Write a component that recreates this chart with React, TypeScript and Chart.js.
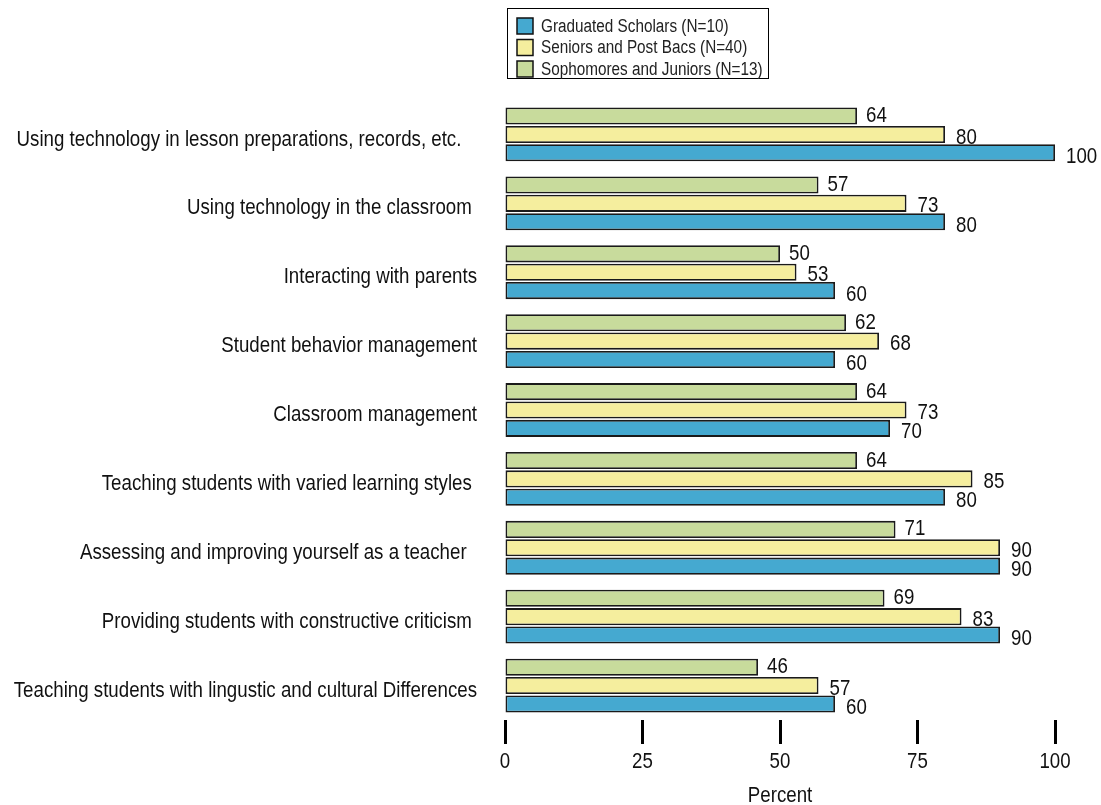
import React, { useEffect, useRef } from "react";
import { Chart, registerables } from "chart.js";

Chart.register(...registerables);

const categories = [
  "Using technology in lesson preparations, records, etc.   ",
  "Using technology in the classroom ",
  "Interacting with parents",
  "Student behavior management",
  "Classroom management",
  "Teaching students with varied learning styles ",
  "Assessing and improving yourself as a teacher  ",
  "Providing students with constructive criticism ",
  "Teaching students with lingustic and cultural Differences",
];

const sophomoresJuniors = [64, 57, 50, 62, 64, 64, 71, 69, 46];
const seniorsPostBacs = [80, 73, 53, 68, 73, 85, 90, 83, 57];
const graduatedScholars = [100, 80, 60, 60, 70, 80, 90, 90, 60];

const seriesNames = [
  "Sophomores and Juniors (N=13)",
  "Seniors and Post Bacs (N=40)",
  "Graduated Scholars (N=10)",
];
const seriesColors = ["#C8DB9C", "#F5EE9E", "#45A9D0"];

const xTickValues = [0, 25, 50, 75, 100];
const axisTitle = "Percent";

const FONT = "'Liberation Sans', Arial, sans-serif";
const SQUEEZE = 0.85;

// draws text horizontally condensed (Arial Narrow look)
function narrowText(ctx: any, text: string, x: number, y: number, size: number, align: string, color: string) {
  ctx.save();
  ctx.font = `${size}px ${FONT}`;
  ctx.fillStyle = color;
  ctx.textAlign = align;
  ctx.textBaseline = "middle";
  ctx.translate(x, y);
  ctx.scale(SQUEEZE, 1);
  ctx.fillText(text, 0, 0);
  ctx.restore();
}

const textPlugin = {
  id: "narrowTexts",
  afterDatasetsDraw(chart: any) {
    const ctx = chart.ctx;
    // value labels
    const yShift = [0, 3, 4];
    const xGap = [9, 11, 11];
    chart.data.datasets.forEach((ds: any, di: number) => {
      const meta = chart.getDatasetMeta(di);
      meta.data.forEach((bar: any, i: number) => {
        narrowText(ctx, String(ds.data[i]), bar.x + xGap[di], bar.y + yShift[di], 22, "left", "#111");
      });
    });
    // category labels
    const ys = chart.scales.y;
    chart.data.labels.forEach((lab: string, i: number) => {
      narrowText(ctx, lab, ys.right - 28, ys.getPixelForTick(i) + 5, 22, "right", "#111");
    });
    // x tick labels
    const xs = chart.scales.x;
    xTickValues.forEach((v) => {
      narrowText(ctx, String(v), xs.getPixelForValue(v), chart.chartArea.bottom + 42, 22, "center", "#111");
    });
    // axis title
    narrowText(ctx, axisTitle, (chart.chartArea.left + chart.chartArea.right) / 2, chart.chartArea.bottom + 76, 22, "center", "#111");
  },
  afterDraw(chart: any) {
    const ctx = chart.ctx;
    const left = 507;
    const top = 8;
    const width = 261;
    const height = 70;
    ctx.save();
    ctx.strokeStyle = "#000";
    ctx.lineWidth = 1;
    ctx.strokeRect(left + 0.5, top + 0.5, width, height);
    const order = [2, 1, 0];
    order.forEach((di, row) => {
      const cy = top + 18 + row * 21.5;
      ctx.fillStyle = seriesColors[di];
      ctx.fillRect(left + 10, cy - 8, 16, 16);
      ctx.strokeStyle = "#111";
      ctx.lineWidth = 1.5;
      ctx.strokeRect(left + 10, cy - 8, 16, 16);
      narrowText(ctx, seriesNames[di], left + 34, cy + 1, 18, "left", "#222");
    });
    ctx.restore();
  },
};

export default function App() {
  const canvasRef = useRef<HTMLCanvasElement | null>(null);

  useEffect(() => {
    if (!canvasRef.current) return;
    const data = [sophomoresJuniors, seniorsPostBacs, graduatedScholars];
    const chart = new Chart(canvasRef.current, {
      type: "bar",
      data: {
        labels: categories,
        datasets: data.map((d, i) => ({
          label: seriesNames[i],
          data: d,
          backgroundColor: seriesColors[i],
          borderColor: "#1a1a1a",
          borderWidth: 1.8,
          borderSkipped: false,
          categoryPercentage: 0.8,
          barPercentage: 0.93,
        })),
      },
      options: {
        indexAxis: "y",
        animation: false,
        responsive: true,
        maintainAspectRatio: false,
        layout: { padding: { top: 100, right: 46, left: 0, bottom: 0 } },
        plugins: {
          legend: { display: false },
          tooltip: { enabled: false },
        },
        scales: {
          x: {
            type: "linear",
            min: 0,
            max: 100,
            afterBuildTicks: (scale: any) => {
              scale.ticks = xTickValues.map((v) => ({ value: v }));
            },
            afterFit: (scale: any) => {
              scale.height = 85;
            },
            ticks: { display: false },
            grid: {
              drawOnChartArea: false,
              drawTicks: true,
              tickLength: 24,
              tickWidth: 3,
              tickColor: "#000",
            },
            border: { display: false },
            title: { display: false, text: axisTitle },
          },
          y: {
            afterFit: (scale: any) => {
              scale.width = 505;
            },
            ticks: { display: false },
            grid: { display: false },
            border: { display: false },
          },
        },
      },
      plugins: [textPlugin],
    });
    return () => chart.destroy();
  }, []);

  return (
    <div style={{ position: "fixed", left: 0, top: 0, width: 1101, height: 805, background: "#fff" }}>
      <canvas ref={canvasRef} />
    </div>
  );
}
